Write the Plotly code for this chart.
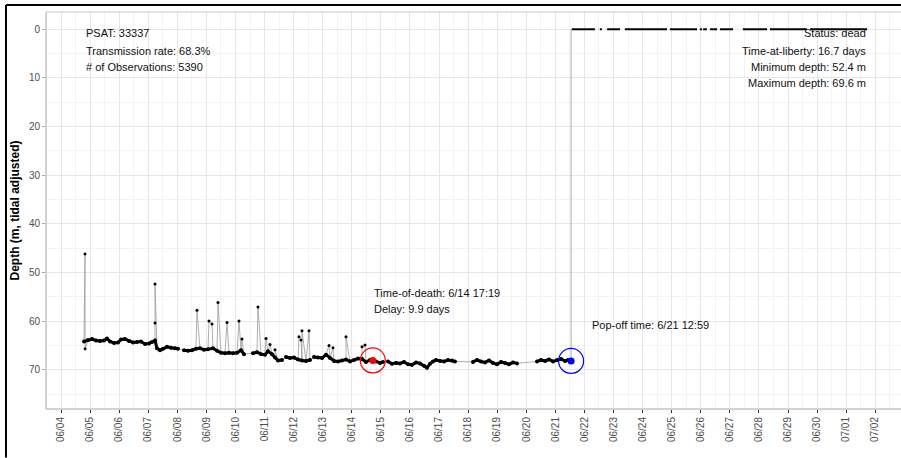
import pandas as pd
import plotly.graph_objects as go

START = pd.Timestamp("2023-06-04 00:00")

# ---- data: elapsed days since 06/04 00:00 and depth (m) ----
# near-bottom track, split where the record has gaps
band_segments = [
    ([0.791, 0.928, 1.066, 1.204, 1.341, 1.479, 1.582, 1.685, 1.823, 1.960, 2.063, 2.201,
      2.338, 2.476, 2.613, 2.751, 2.889, 3.026, 3.129, 3.232, 3.301, 3.404, 3.508, 3.645,
      3.783, 3.920, 4.023],
     [64.2, 63.9, 63.7, 64.0, 64.1, 64.0, 63.6, 64.2, 64.5, 64.4, 63.8, 63.7,
      64.1, 64.4, 64.3, 64.2, 64.7, 64.6, 64.3, 64.0, 65.6, 66.0, 65.7, 65.3,
      65.5, 65.6, 65.7]),
    ([4.230, 4.367, 4.505, 4.642, 4.780, 4.917, 5.055, 5.227, 5.365, 5.502, 5.640, 5.777,
      5.915, 6.052, 6.190, 6.293],
     [66.0, 66.1, 66.0, 65.7, 65.6, 65.9, 65.8, 65.6, 66.1, 66.5, 66.6, 66.5,
      66.6, 66.5, 66.0, 66.8]),
    ([6.602, 6.740, 6.878, 7.015, 7.118, 7.256, 7.359, 7.462, 7.600],
     [66.6, 66.4, 66.8, 66.9, 66.2, 66.8, 67.5, 68.1, 68.0]),
    ([7.737, 7.875, 8.012, 8.150, 8.287, 8.425, 8.563],
     [67.4, 67.6, 67.5, 67.9, 68.1, 68.2, 68.0]),
    ([8.700, 8.838, 8.975, 9.113, 9.250, 9.388, 9.525, 9.663, 9.801, 9.938, 10.076, 10.213,
      10.351, 10.488, 10.626, 10.722, 10.832, 10.970, 11.073],
     [67.4, 67.5, 67.6, 66.9, 67.6, 68.2, 68.3, 68.1, 67.9, 68.3, 68.0, 67.7,
      67.8, 68.4, 68.0, 68.1, 68.3, 68.6, 68.4]),
    ([11.245, 11.382, 11.520, 11.657, 11.795, 11.933, 12.070, 12.208, 12.345, 12.483, 12.586,
      12.689, 12.792, 12.895, 13.033, 13.171, 13.308, 13.446, 13.549],
     [68.3, 68.8, 68.6, 68.7, 68.4, 68.9, 69.0, 68.5, 68.7, 69.2, 69.6,
      68.8, 68.3, 68.0, 68.2, 68.3, 68.0, 68.1, 68.3]),
    ([14.168, 14.305, 14.443, 14.580, 14.718, 14.856, 14.993, 15.131, 15.268, 15.406,
      15.543, 15.681],
     [68.4, 68.0, 68.3, 68.5, 68.1, 68.6, 68.9, 68.4, 68.6, 68.9, 68.5, 68.7]),
    ([16.369, 16.506, 16.644, 16.781, 16.919, 17.056, 17.194, 17.331, 17.435, 17.541],
     [68.3, 68.0, 68.2, 67.9, 68.3, 68.0, 67.8, 68.2, 68.0, 68.2]),
]

# isolated shallow excursions (spikes)
spike_days = [0.825, 0.830, 3.232, 3.233, 4.677, 5.089, 5.193, 5.399, 5.708, 6.121, 6.224,
              6.774, 7.050, 7.187, 7.359, 8.184, 8.253, 8.287, 8.528, 9.216, 9.353, 9.801,
              10.351, 10.454]
spike_depths = [46.2, 65.7, 60.4, 52.4, 57.8, 60.0, 60.6, 56.2, 60.3, 60.0, 63.7,
                57.1, 63.6, 64.8, 65.9, 63.2, 63.9, 62.0, 62.0, 65.0, 65.5, 63.2,
                65.3, 64.9]

# surface records after pop-off (start/end of each run at 0 m)
surface_start = [17.57, 18.53, 18.78, 19.39, 20.94, 21.97, 22.08, 22.32, 22.66, 23.45, 24.38, 25.76]
surface_end = [18.36, 18.60, 19.22, 20.84, 21.87, 22.04, 22.21, 22.56, 23.11, 24.28, 25.65, 27.72]

death_day, death_depth = 10.722, 68.1
popoff_day, popoff_depth = 17.541, 68.2

info_left = ["PSAT: 33337", "Transmission rate: 68.3%", "# of Observations: 5390"]
info_right = ["Status: dead", "Time-at-liberty: 16.7 days", "Minimum depth: 52.4 m",
              "Maximum depth: 69.6 m"]
death_text = ["Time-of-death: 6/14 17:19", "Delay: 9.9 days"]
popoff_text = "Pop-off time: 6/21 12:59"


def t(d):
    return START + pd.to_timedelta(d, unit="D")


# ---- build traces ----
all_pts = []
for ds, vs in band_segments:
    all_pts += list(zip(ds, vs))
all_pts += list(zip(spike_days, spike_depths))
all_pts.sort(key=lambda p: p[0])
path_x = [t(d) for d, _ in all_pts] + [t(popoff_day), t(surface_start[0])]
path_y = [v for _, v in all_pts] + [0, 0]

band_x, band_y = [], []
for ds, vs in band_segments:
    band_x += [t(d) for d in ds] + [None]
    band_y += list(vs) + [None]

surf_x, surf_y = [], []
for a, b in zip(surface_start, surface_end):
    surf_x += [t(a), t(b), None]
    surf_y += [0, 0, None]

fig = go.Figure()
fig.add_trace(go.Scatter(x=path_x, y=path_y, mode="lines",
                         line=dict(color="#9a9a9a", width=0.8), hoverinfo="skip"))
fig.add_trace(go.Scatter(x=band_x, y=band_y, mode="lines+markers",
                         line=dict(color="black", width=3),
                         marker=dict(color="black", size=4)))
fig.add_trace(go.Scatter(x=[t(d) for d in spike_days], y=spike_depths, mode="markers",
                         marker=dict(color="black", size=3)))
fig.add_trace(go.Scatter(x=surf_x, y=surf_y, mode="lines",
                         line=dict(color="black", width=2)))
fig.add_trace(go.Scatter(x=[t(death_day)], y=[death_depth], mode="markers",
                         marker=dict(color="red", size=7)))
fig.add_trace(go.Scatter(x=[t(death_day)], y=[death_depth], mode="markers",
                         marker=dict(symbol="circle-open", color="red", size=25,
                                     line=dict(width=1.2, color="red"))))
fig.add_trace(go.Scatter(x=[t(popoff_day)], y=[popoff_depth], mode="markers",
                         marker=dict(color="blue", size=7)))
fig.add_trace(go.Scatter(x=[t(popoff_day)], y=[popoff_depth], mode="markers",
                         marker=dict(symbol="circle-open", color="blue", size=25,
                                     line=dict(width=1.2, color="blue"))))

font = dict(family="Liberation Sans, Arial, sans-serif", size=11, color="#111111")
ann = []
for i, s in enumerate(info_left):
    ann.append(dict(x=t(0.78), y=[0.76, 4.46, 7.75][i], text=s, showarrow=False,
                    xanchor="left", yanchor="middle", font=font))
for i, s in enumerate(info_right):
    ann.append(dict(x=t(27.75), y=[0.76, 4.46, 7.75, 11.04][i], text=s, showarrow=False,
                    xanchor="right", yanchor="middle", font=font))
for i, s in enumerate(death_text):
    ann.append(dict(x=t(10.70), y=[54.2, 57.5][i], text=s, showarrow=False,
                    xanchor="left", yanchor="middle", font=font))
ann.append(dict(x=t(18.19), y=60.8, text=popoff_text, showarrow=False,
                xanchor="left", yanchor="middle", font=font))

panel_line = dict(color="#a6a6a6", width=1)
fig.update_layout(
    width=901, height=458,
    margin=dict(l=46, r=0, t=12, b=49),
    paper_bgcolor="white", plot_bgcolor="white",
    showlegend=False,
    annotations=ann,
    font=dict(family="Liberation Sans, Arial, sans-serif"),
    shapes=[
        # panel border (left, bottom, top) - right edge lies outside the picture
        dict(type="line", xref="paper", yref="paper", x0=0, x1=0, y0=0, y1=1,
             line=panel_line, layer="above"),
        dict(type="line", xref="paper", yref="paper", x0=0, x1=1, y0=0, y1=0,
             line=panel_line, layer="above"),
        dict(type="line", xref="paper", yref="paper", x0=0, x1=1, y0=1, y1=1,
             line=dict(color="#c8c8c8", width=1), layer="above"),
        # outer black frame
        dict(type="line", xref="paper", yref="paper", x0=-0.0468, x1=-0.0468,
             y0=-0.122, y1=1.0176, line=dict(color="black", width=2)),
        dict(type="line", xref="paper", yref="paper", x0=-0.0468, x1=1.0,
             y0=1.0176, y1=1.0176, line=dict(color="black", width=2)),
    ],
)
fig.update_xaxes(
    type="date",
    range=[t(-0.516), t(28.886)],
    tick0="2023-06-04", dtick=86400000, tickformat="%m/%d", tickangle=-90,
    ticks="outside", ticklen=3, tickcolor="#333333",
    tickfont=dict(size=10, color="#4d4d4d"),
    showgrid=True, gridcolor="#e6e6e6", gridwidth=1,
    minor=dict(dtick=43200000, showgrid=True, gridcolor="#f2f2f2", ticks=""),
    showline=False, zeroline=False,
)
fig.update_yaxes(
    range=[78.08, -3.55],
    tick0=0, dtick=10,
    ticks="outside", ticklen=3, tickcolor="#a6a6a6",
    tickfont=dict(size=10, color="#4d4d4d"),
    showgrid=True, gridcolor="#e6e6e6", gridwidth=1,
    minor=dict(dtick=5, showgrid=True, gridcolor="#f2f2f2", ticks=""),
    showline=False, zeroline=False,
    title=dict(text="<b>Depth (m, tidal adjusted)</b>", standoff=6,
               font=dict(size=12, color="black")),
)

fig.write_html("out.html")
